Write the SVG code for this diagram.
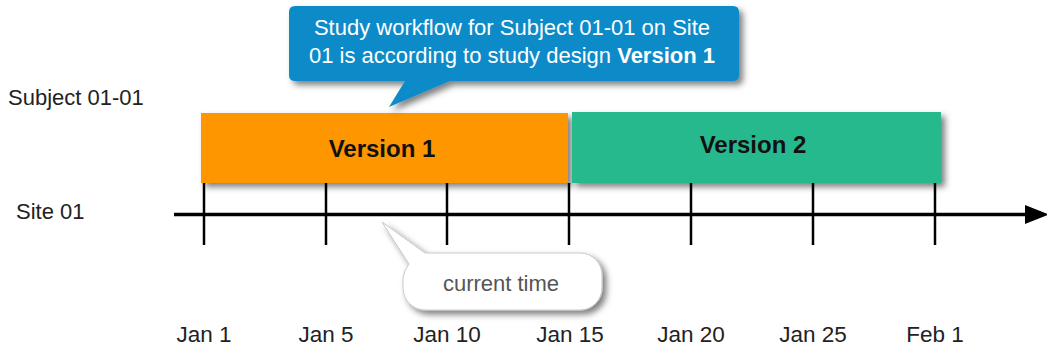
<svg xmlns="http://www.w3.org/2000/svg" width="1047" height="349" viewBox="0 0 1047 349">
  <style>
    text { font-family: "Liberation Sans", Arial, sans-serif; }
    .lbl { font-size: 22px; fill: #222; }
    .date { font-size: 22.5px; fill: #222; text-anchor: middle; }
    .ver { font-size: 24px; font-weight: bold; fill: #111; text-anchor: middle; }
    .tick { stroke: #000; stroke-width: 2.5; }
    .axis { stroke: #000; stroke-width: 3.5; fill: none; }
    .note { font-size: 22px; fill: #fff; text-anchor: middle; }
    .now { font-size: 22px; fill: #555; text-anchor: middle; }
  </style>
  <defs>
    <filter id="shadow" x="-10%" y="-20%" width="130%" height="160%">
      <feDropShadow dx="4" dy="4" stdDeviation="3" flood-color="#000" flood-opacity="0.5"/>
    </filter>
    <marker id="arrow" markerUnits="userSpaceOnUse" markerWidth="24" markerHeight="22" refX="0" refY="11" orient="auto">
      <path d="M0,1.5 L24,11 L0,20.5 Z" fill="#000"/>
    </marker>
  </defs>

  <!-- row labels -->
  <g id="label-subject"><text class="lbl" x="8" y="105">Subject 01-01</text></g>
  <g id="label-site"><text class="lbl" x="16" y="219">Site 01</text></g>

  <!-- study design versions -->
  <g id="version1">
    <rect x="201" y="113" width="367" height="70" fill="#fe9600" filter="url(#shadow)"/>
    <text class="ver" x="382" y="157">Version 1</text>
  </g>
  <g id="version2">
    <rect x="572" y="112" width="369" height="71" fill="#25b98e" filter="url(#shadow)"/>
    <text class="ver" x="753" y="153">Version 2</text>
  </g>

  <!-- time axis and ticks -->
  <g id="connectors">
    <line class="axis" x1="174" y1="214.5" x2="1025" y2="214.5" marker-end="url(#arrow)"/>
    <line class="tick" x1="204" y1="183" x2="204" y2="245"/>
    <line class="tick" x1="326" y1="183" x2="326" y2="245"/>
    <line class="tick" x1="447" y1="183" x2="447" y2="245"/>
    <line class="tick" x1="569" y1="183" x2="569" y2="245"/>
    <line class="tick" x1="691" y1="183" x2="691" y2="245"/>
    <line class="tick" x1="813" y1="183" x2="813" y2="245"/>
    <line class="tick" x1="935" y1="183" x2="935" y2="245"/>
  </g>

  <!-- date labels -->
  <g id="dates">
    <text class="date" x="204" y="342">Jan 1</text>
    <text class="date" x="326" y="342">Jan 5</text>
    <text class="date" x="447" y="342">Jan 10</text>
    <text class="date" x="570" y="342">Jan 15</text>
    <text class="date" x="691" y="342">Jan 20</text>
    <text class="date" x="813" y="342">Jan 25</text>
    <text class="date" x="935" y="342">Feb 1</text>
  </g>

  <!-- blue note callout -->
  <g id="note-callout">
    <path d="M295,6 H733 Q739,6 739,12 V75 Q739,81 733,81 H450 L389,107 L405,81 H295 Q289,81 289,75 V12 Q289,6 295,6 Z" fill="#0a8bc9" filter="url(#shadow)"/>
    <text class="note" x="512" y="35">Study workflow for Subject 01-01 on Site</text>
    <text class="note" x="512" y="63">01 is according to study design <tspan font-weight="bold">Version 1</tspan></text>
  </g>

  <!-- current time callout -->
  <g id="current-time">
    <path d="M425,253 H580 A22,22 0 0 1 602,275 V288 A22,22 0 0 1 580,310 H425 A22,22 0 0 1 403,288 V278 Q404,270 409,264 L382,222 Z" fill="#fff" stroke="#c8c8c8" stroke-width="1" filter="url(#shadow)"/>
    <text class="now" x="501" y="291">current time</text>
  </g>
</svg>
